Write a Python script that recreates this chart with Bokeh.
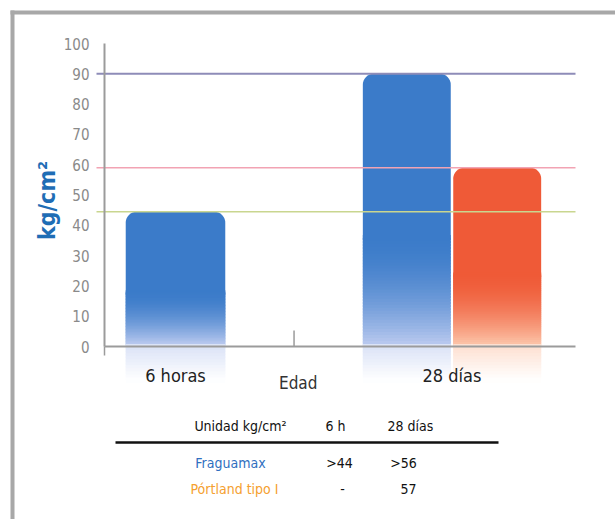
import math
from bokeh.plotting import figure
from bokeh.models import Range1d, LinearAxis, FixedTicker
from bokeh.core.properties import value
from bokeh.embed import file_html
from bokeh.resources import INLINE

# ---------------- data ----------------
categories = ["6 horas", "28 días"]
series_names = ["Fraguamax", "Pórtland tipo I"]
fraguamax = [44.5, 90]
portland = [None, 59]
y_ticks = [0, 10, 20, 30, 40, 50, 60, 70, 80, 90, 100]
x_title = "Edad"
y_title = "kg/cm²"
table_header = ["Unidad kg/cm²", "6 h", "28 días"]
table_fraguamax = [">44", ">56"]
table_portland = ["-", "57"]

# ---------------- style ----------------
FONT = "DejaVu Sans Condensed, sans-serif"
base_colors = ["#3b7bc9", "#ef5a37"]
light_colors = ["#b9c9ef", "#fcc4a8"]
ref_line_colors = ["#c9d68f", "#8e8cb8", "#f2a3b3"]
AXIS_GRAY = "#9b9b9b"

W, H = 615, 519
PX_X = 276.5   # pixels per category step
PX_Y = 3.03    # pixels per kg/cm2
X0_PX = 175    # pixel of first category
Y0_PX = 346    # pixel of value 0


def dx(px):
    return (px - X0_PX) / PX_X


def dy(py):
    return (Y0_PX - py) / PX_Y


def mix(c1, c2, t):
    a = [int(c1[i:i + 2], 16) for i in (1, 3, 5)]
    b = [int(c2[i:i + 2], 16) for i in (1, 3, 5)]
    return "#%02x%02x%02x" % tuple(round(a[k] + (b[k] - a[k]) * t) for k in range(3))


p = figure(width=W, height=H, x_range=Range1d(dx(0), dx(W)),
           y_range=Range1d(dy(H), dy(0)), output_backend="svg",
           toolbar_location=None, min_border=0, x_axis_type=None,
           y_axis_type=None)
p.outline_line_color = None
p.background_fill_color = "white"
p.border_fill_color = "white"

# outer frame lines
p.segment(x0=[dx(12), dx(10)], y0=[dy(10), dy(12)], x1=[dx(12), dx(W)],
          y1=[dy(H), dy(12)], line_color="#a8a8a8", line_width=4)

# ---------------- bars ----------------
series = [fraguamax, portland]
bars = []
slot = 0.327
for gi, cat in enumerate(categories):
    vals = [(si, s[gi]) for si, s in enumerate(series) if s[gi] is not None]
    n = len(vals)
    width = 0.36 if n == 1 else 0.318
    for k, (si, v) in enumerate(vals):
        xc = gi + (k - (n - 1) / 2) * slot
        bars.append((xc, width, v, si))

REFLECT = -12
N1, N2 = 36, 12
OVER = 0.8
for xc, w, v, si in bars:
    fade_top = v * 0.4
    p.vbar(x=[xc], width=w, bottom=fade_top - OVER, top=v,
           fill_color=base_colors[si], line_color=None,
           border_radius=(11, 11, 0, 0))
    lefts, rights, bottoms, tops, cols = [], [], [], [], []
    for i in range(N1):
        b = fade_top * (1 - (i + 1) / N1)
        t = fade_top * (1 - i / N1) + OVER
        lefts.append(xc - w / 2); rights.append(xc + w / 2)
        bottoms.append(b); tops.append(t)
        s = (i + 0.5) / N1
        cols.append(mix(base_colors[si], light_colors[si], s ** 1.8))
    for i in range(N2):
        t = REFLECT * i / N2 + OVER
        b = REFLECT * (i + 1) / N2
        lefts.append(xc - w / 2); rights.append(xc + w / 2)
        bottoms.append(b); tops.append(t)
        cols.append(mix(light_colors[si], "#ffffff", 0.45 + 0.55 * (i + 0.5) / N2))
    p.quad(left=lefts, right=rights, bottom=bottoms, top=tops,
           fill_color=cols, line_color=None)

# reference lines at the bar tops
for (xc, w, v, si), col in zip(bars, ref_line_colors):
    p.segment(x0=[dx(96)], y0=[v], x1=[dx(575)], y1=[v], line_color=col,
              line_width=2 if v > 80 else 1.5)

# ---------------- axes ----------------
yax = LinearAxis(fixed_location=dx(104), bounds=(0, 100),
                 ticker=FixedTicker(ticks=y_ticks))
yax.axis_line_color = AXIS_GRAY
yax.axis_line_width = 2
yax.major_tick_line_color = None
yax.minor_tick_line_color = None
yax.major_label_text_font = FONT
yax.major_label_text_font_size = "15px"
yax.major_label_text_color = "#8a8a8a"
yax.major_label_standoff = 9
p.add_layout(yax, "left")

xax = LinearAxis(fixed_location=0, bounds=(dx(104), dx(575)),
                 ticker=FixedTicker(ticks=list(range(len(categories)))),
                 major_label_overrides={i: c for i, c in enumerate(categories)})
xax.axis_line_color = AXIS_GRAY
xax.axis_line_width = 2
xax.major_tick_line_color = None
xax.minor_tick_line_color = None
xax.major_label_text_font = FONT
xax.major_label_text_font_size = "18px"
xax.major_label_text_color = "#222222"
xax.major_label_standoff = 12
p.add_layout(xax, "below")

# divider tick between categories
first_right = bars[0][0] + bars[0][1] / 2
second_left = bars[1][0] - bars[1][1] / 2
tick_x = (first_right + second_left) / 2
p.segment(x0=[tick_x, dx(104)], y0=[0, 0], x1=[tick_x, dx(104)],
          y1=[dy(330), dy(355)], line_color=AXIS_GRAY, line_width=1.5)

p.text(x=[tick_x + 0.015], y=[dy(382)], text=[x_title], text_font=value(FONT),
       text_font_size=value("17px"), text_color="#333333", text_align="center",
       text_baseline="middle")
p.text(x=[dx(46)], y=[dy(200)], text=[y_title], angle=math.pi / 2,
       text_font=value(FONT), text_font_size=value("23px"),
       text_font_style="bold", text_color="#1f6db5", text_align="center",
       text_baseline="middle")

# ---------------- table ----------------
hx = [dx(240), dx(335), dx(410)]
p.text(x=hx, y=[dy(425)] * 3, text=table_header, text_font=value(FONT),
       text_font_size=value("14px"), text_color="#111111", text_align="center",
       text_baseline="middle")
p.segment(x0=[dx(115)], y0=[dy(442)], x1=[dx(498)], y1=[dy(442)],
          line_color="#111111", line_width=2.5)
p.text(x=[dx(230)], y=[dy(462)], text=[series_names[0]], text_font=value(FONT),
       text_font_size=value("14px"), text_color="#2f6fc0", text_align="center",
       text_baseline="middle")
p.text(x=[dx(234)], y=[dy(488)], text=[series_names[1]], text_font=value(FONT),
       text_font_size=value("14px"), text_color="#f5a030", text_align="center",
       text_baseline="middle")
p.text(x=[dx(339), dx(403)], y=[dy(462)] * 2, text=table_fraguamax,
       text_font=value(FONT), text_font_size=value("14px"), text_color="#111111",
       text_align="center", text_baseline="middle")
p.text(x=[dx(342), dx(408)], y=[dy(488)] * 2, text=table_portland,
       text_font=value(FONT), text_font_size=value("14px"), text_color="#111111",
       text_align="center", text_baseline="middle")

open("out.html", "w").write(file_html(p, INLINE))
